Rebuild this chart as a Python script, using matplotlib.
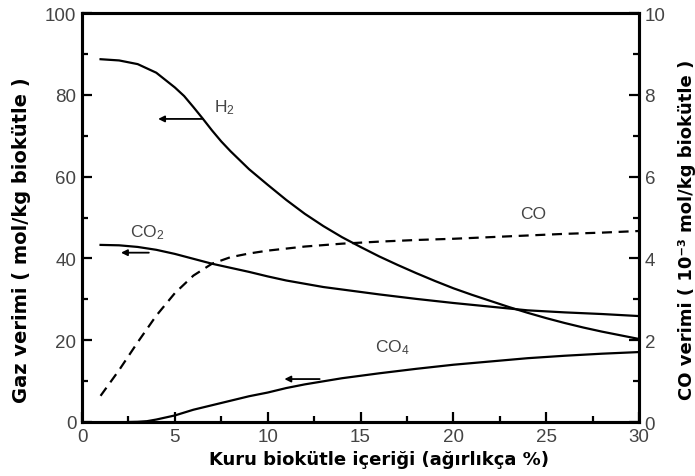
import numpy as np
import matplotlib
matplotlib.use("Agg")
import matplotlib.pyplot as plt
from matplotlib.ticker import MultipleLocator

plt.rcParams['font.family'] = ['Liberation Sans', 'DejaVu Sans']
plt.rcParams['mathtext.fontset'] = 'custom'
plt.rcParams['mathtext.rm'] = 'Liberation Sans'
plt.rcParams['mathtext.it'] = 'Liberation Sans'

# gas yields vs dry biomass content (wt %)
x_h2 = [1, 2, 3, 4, 5, 5.5, 6, 6.5, 7, 7.5, 8, 9, 10, 11, 12, 13, 14, 15, 16, 17,
        18, 19, 20, 21, 22, 23, 24, 25, 26, 27, 28, 29, 30]
h2 = [88.7, 88.4, 87.5, 85.4, 81.8, 79.7, 77.0, 74.2, 71.3, 68.6, 66.2, 61.8,
      58.0, 54.3, 50.9, 47.9, 45.2, 42.8, 40.5, 38.4, 36.4, 34.5, 32.7, 31.1,
      29.6, 28.1, 26.7, 25.4, 24.2, 23.1, 22.1, 21.2, 20.3]

x_co2 = [1, 2, 3, 4, 5, 6, 7, 8, 9, 10, 11, 12, 13, 14, 15, 16, 18, 20, 22, 24,
         26, 28, 30]
co2 = [43.3, 43.2, 42.8, 42.1, 41.1, 39.9, 38.7, 37.7, 36.7, 35.6, 34.6, 33.8,
       33.0, 32.4, 31.8, 31.2, 30.1, 29.1, 28.2, 27.3, 26.8, 26.4, 25.9]

x_ch4 = [2.5, 3, 3.5, 4, 5, 6, 7, 8, 9, 10, 11, 12, 14, 16, 18, 20, 22, 24, 26,
         28, 30]
ch4 = [0.0, 0.05, 0.2, 0.6, 1.6, 3.0, 4.1, 5.2, 6.3, 7.2, 8.3, 9.2, 10.7, 11.9,
       13.0, 14.0, 14.8, 15.6, 16.2, 16.7, 17.1]

# CO on the right axis (10^-3 mol/kg)
x_co = [1, 2, 3, 4, 5, 6, 7, 8, 9, 10, 12, 14, 16, 18, 20, 22, 24, 26, 28, 30]
co = [0.64, 1.27, 1.95, 2.6, 3.15, 3.58, 3.87, 4.03, 4.12, 4.19, 4.29, 4.36,
      4.41, 4.45, 4.48, 4.52, 4.56, 4.6, 4.63, 4.67]

tick_color = "#444444"

fig = plt.figure(figsize=(6.95, 4.77), dpi=100)
ax = fig.add_axes([82/695, 1-423/477, (639-82)/695, (423-14)/477])
ax2 = ax.twinx()

ax.plot(x_h2, h2, color="black", lw=1.6)
ax.plot(x_co2, co2, color="black", lw=1.6)
ax.plot(x_ch4, ch4, color="black", lw=1.6)
ax2.plot(x_co, co, color="black", lw=1.6, dashes=(4.5, 3))

ax.set_xlim(0, 30)
ax.set_ylim(0, 100)
ax2.set_ylim(0, 10)

ax.xaxis.set_major_locator(MultipleLocator(5))
ax.xaxis.set_minor_locator(MultipleLocator(2.5))
ax.yaxis.set_major_locator(MultipleLocator(20))
ax.yaxis.set_minor_locator(MultipleLocator(10))
ax2.yaxis.set_major_locator(MultipleLocator(2))
ax2.yaxis.set_minor_locator(MultipleLocator(1))

for a in (ax, ax2):
    for s in a.spines.values():
        s.set_linewidth(2.2)
    a.tick_params(which="major", direction="in", length=7, width=1.6,
                  labelsize=13.5, labelcolor=tick_color, pad=4)
    a.tick_params(which="minor", direction="in", length=4.5, width=1.6)
ax.tick_params(top=False, right=False)
ax.tick_params(axis="x", pad=4)

# series labels and arrows pointing to the axis each curve belongs to
lbl = dict(fontsize=12.5, color=tick_color)
ax.text(7.1, 77, "H$_2$", ha="left", va="center", **lbl)
ax.text(2.6, 46.5, "CO$_2$", ha="left", va="center", **lbl)
ax.text(24.3, 51, "CO", ha="center", va="center", **lbl)
ax.text(15.8, 18.5, "CO$_4$", ha="left", va="center", **lbl)

arrow = dict(arrowstyle="-|>", color="black", lw=1.3, mutation_scale=9,
             shrinkA=0, shrinkB=0)
ax.annotate("", xy=(4.1, 74.1), xytext=(6.5, 74.1), arrowprops=arrow)
ax.annotate("", xy=(2.1, 41.4), xytext=(3.6, 41.4), arrowprops=arrow)
ax.annotate("", xy=(10.9, 10.5), xytext=(12.8, 10.5), arrowprops=arrow)

label_font = dict(family="DejaVu Sans", fontweight="bold", color="black")
fig.text(379/695, 1-460/477, "Kuru biokütle içeriği (ağırlıkça %)",
         ha="center", va="center", fontsize=13, **label_font)
fig.text(22/695, 1-240/477, "Gaz verimi ( mol/kg biokütle )",
         ha="center", va="center", rotation=90, fontsize=14, **label_font)
fig.text(687/695, 1-230/477, "CO verimi ( 10⁻³ mol/kg biokütle )",
         ha="center", va="center", rotation=90, fontsize=13, **label_font)

fig.savefig("out.png", dpi=100)
